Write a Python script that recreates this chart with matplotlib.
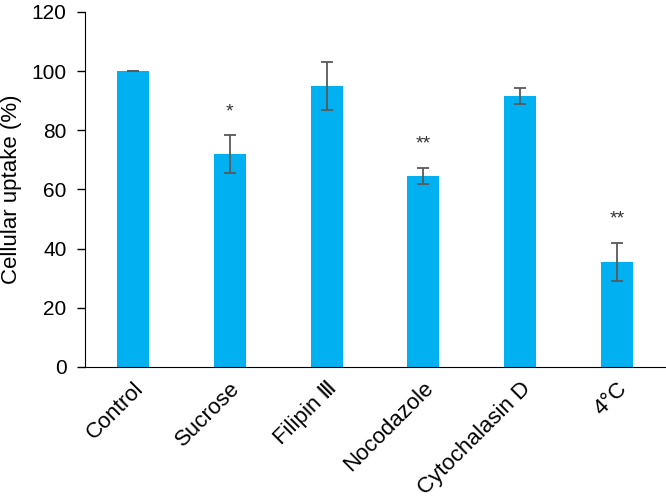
import matplotlib
matplotlib.use('Agg')
import matplotlib.pyplot as plt

plt.rcParams['font.family'] = ['Liberation Sans', 'DejaVu Sans']

# data
labels = ['Control', 'Sucrose', 'Filipin \u2162', 'Nocodazole', 'Cytochalasin D', '4\u00b0C']
uptake = [100, 72, 95, 64.5, 91.5, 35.5]
errors = [0, 6.3, 8, 2.7, 2.7, 6.5]
stars = ['', '*', '', '**', '', '**']

fig = plt.figure(figsize=(6.66, 4.99), dpi=100)
ax = fig.add_axes([0.127, 0.265, 0.872, 0.711])

x = list(range(len(labels)))
ax.bar(x, uptake, width=0.33, color='#00B0F0')
ax.errorbar(x, uptake, yerr=errors, fmt='none', ecolor='#595959',
            elinewidth=1.3, capsize=4, capthick=1.3)

# significance marks above the error bars
for i in x:
    if stars[i]:
        ax.text(i, uptake[i] + errors[i] + 8, stars[i], ha='center', va='center',
                fontsize=14, color='#333333')

ax.set_xlim(-0.5, 5.5)
ax.set_ylim(0, 120)
ax.set_yticks(range(0, 121, 20))
ax.set_xticks(x)
ax.set_xticklabels(labels, rotation=45, ha='right', rotation_mode='anchor', fontsize=16)
ax.tick_params(axis='y', labelsize=15, length=6, width=1, direction='out', pad=7)
ax.tick_params(axis='x', length=0, pad=8)
ax.set_ylabel('Cellular uptake (%)', fontsize=16, labelpad=7)

ax.spines['top'].set_visible(False)
ax.spines['right'].set_visible(False)

plt.savefig('out.png', dpi=100)
